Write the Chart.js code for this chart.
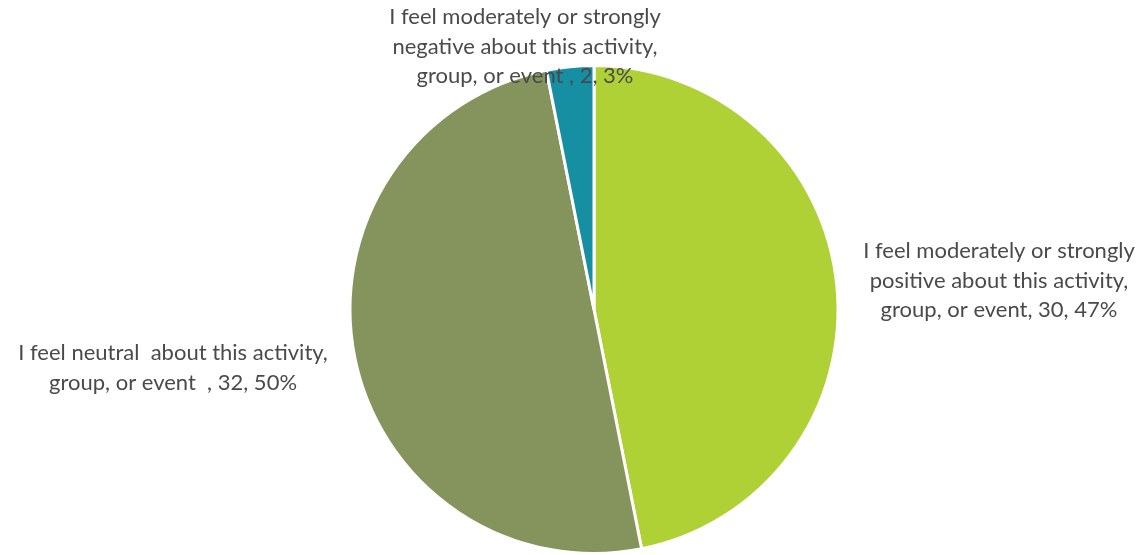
<!DOCTYPE html>
<html>
<head>
<meta charset="utf-8">
<script src="https://cdn.jsdelivr.net/npm/chart.js@4/dist/chart.umd.min.js"></script>
<style>
html,body{margin:0;padding:0;background:#fff;}
#wrap{width:1142px;height:555px;position:relative;}
</style>
</head>
<body>
<div id="wrap"><canvas id="c" width="1142" height="555"></canvas></div>
<script>
const categories = [
  "I feel moderately or strongly positive about this activity, group, or event",
  "I feel neutral  about this activity, group, or event  ",
  "I feel moderately or strongly negative about this activity, group, or event "
];
const categoryLines = [
  ["I feel moderately or strongly", "positive about this activity,", "group, or event"],
  ["I feel neutral  about this activity,", "group, or event  "],
  ["I feel moderately or strongly", "negative about this activity,", "group, or event "]
];
const counts = [30, 32, 2];
const percents = ["47%", "50%", "3%"];
const colors = ["#AFD136", "#84945C", "#168FA3"];
const labelCenters = [[999, 251], [173, 353], [525, 17]];

const labelPlugin = {
  id: 'sliceLabels',
  afterDraw(chart) {
    const ctx = chart.ctx;
    ctx.save();
    ctx.font = '22px Lato';
    ctx.fillStyle = '#4a4a4a';
    ctx.textAlign = 'center';
    ctx.textBaseline = 'middle';
    categoryLines.forEach((lines, i) => {
      const [cx, cy] = labelCenters[i];
      lines.forEach((ln, j) => {
        let t = ln;
        if (j === lines.length - 1) t = ln + ", " + counts[i] + ", " + percents[i];
        ctx.fillText(t, cx, cy + j * 29.5);
      });
    });
    ctx.restore();
  }
};

new Chart(document.getElementById('c'), {
  type: 'pie',
  data: {
    labels: categories,
    datasets: [{
      data: counts,
      backgroundColor: colors,
      borderColor: '#ffffff',
      borderWidth: 3
    }]
  },
  options: {
    responsive: false,
    animation: false,
    layout: { padding: { top: 64, bottom: 0, left: 46, right: 0 } },
    plugins: { legend: { display: false }, tooltip: { enabled: false } }
  },
  plugins: [labelPlugin]
});
</script>
</body>
</html>
